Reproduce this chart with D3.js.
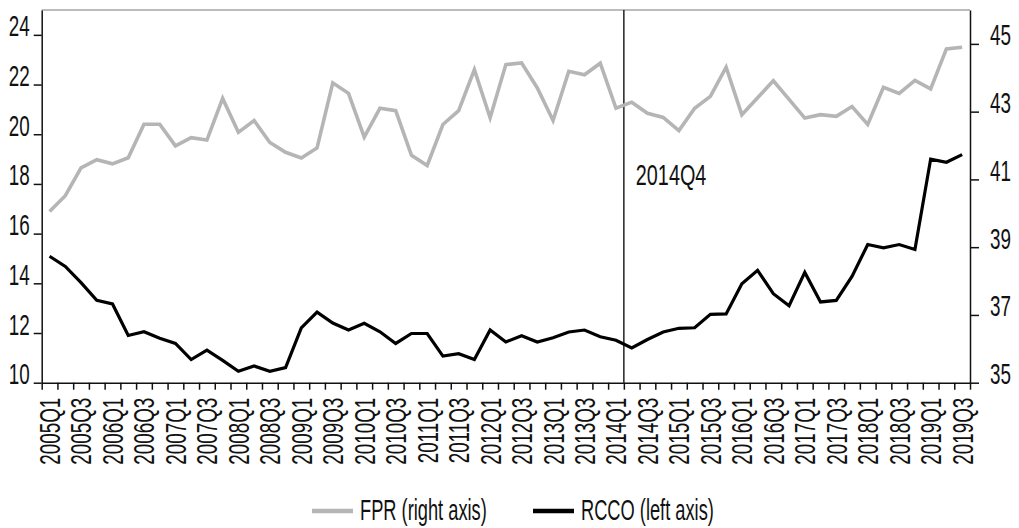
<!DOCTYPE html>
<html>
<head>
<meta charset="utf-8">
<script src="https://cdn.jsdelivr.net/npm/d3@7"></script>
<style>
    body { margin: 0; background: #fff; }
    text { font-family: "Liberation Sans", Arial, sans-serif; fill: #111; }
</style>
</head>
<body>
<svg id="chart"></svg>
<script>
// quarters on the x axis
const quarters = [
    '2005Q1','2005Q2','2005Q3','2005Q4','2006Q1','2006Q2','2006Q3','2006Q4',
    '2007Q1','2007Q2','2007Q3','2007Q4','2008Q1','2008Q2','2008Q3','2008Q4',
    '2009Q1','2009Q2','2009Q3','2009Q4','2010Q1','2010Q2','2010Q3','2010Q4',
    '2011Q1','2011Q2','2011Q3','2011Q4','2012Q1','2012Q2','2012Q3','2012Q4',
    '2013Q1','2013Q2','2013Q3','2013Q4','2014Q1','2014Q2','2014Q3','2014Q4',
    '2015Q1','2015Q2','2015Q3','2015Q4','2016Q1','2016Q2','2016Q3','2016Q4',
    '2017Q1','2017Q2','2017Q3','2017Q4','2018Q1','2018Q2','2018Q3','2018Q4',
    '2019Q1','2019Q2','2019Q3'
];

// FPR, right axis
const fpr = [
    40.05, 40.52, 41.34, 41.58, 41.46, 41.64, 42.63, 42.63,
    41.99, 42.23, 42.16, 43.39, 42.39, 42.74, 42.09, 41.80,
    41.63, 41.93, 43.85, 43.54, 42.25, 43.10, 43.03, 41.71,
    41.41, 42.62, 43.03, 44.24, 42.82, 44.39, 44.44, 43.70,
    42.74, 44.19, 44.09, 44.43, 43.10, 43.28, 42.95, 42.83,
    42.44, 43.10, 43.45, 44.31, 42.91, 43.41, 43.91, 43.36,
    42.81, 42.91, 42.86, 43.15, 42.62, 43.72, 43.54, 43.92,
    43.67, 44.85, 44.90
];

// RCCO, left axis
const rcco = [
    15.09, 14.68, 14.03, 13.32, 13.17, 11.90, 12.05, 11.79,
    11.58, 10.93, 11.31, 10.90, 10.46, 10.67, 10.46, 10.61,
    12.21, 12.84, 12.40, 12.12, 12.39, 12.05, 11.58, 11.98,
    11.98, 11.07, 11.17, 10.93, 12.12, 11.64, 11.89, 11.64,
    11.81, 12.04, 12.12, 11.85, 11.71, 11.40, 11.74, 12.04,
    12.19, 12.21, 12.75, 12.77, 13.98, 14.52, 13.58, 13.10,
    14.44, 13.25, 13.31, 14.28, 15.56, 15.43, 15.56, 15.36,
    19.00, 18.87, 19.18
];

const leftTicks = [10, 12, 14, 16, 18, 20, 22, 24];
const rightTicks = [35, 37, 39, 41, 43, 45];
const xLabels = quarters.filter((d, i) => i % 2 === 0);
const markerQuarter = '2014Q2';
const markerText = '2014Q4';

const width = 1019, height = 528;
const plot = {left: 41.7, right: 970, top: 10, bottom: 382.7};
const fontSize = 29;
const squeeze = 0.65; // the original uses a condensed face

const svg = d3.select('#chart')
    .attr('width', width)
    .attr('height', height);

const x = d3.scaleBand()
    .domain(quarters)
    .range([plot.left, plot.right]);

// ticks sit on the band edges
const xEdge = d3.scaleLinear()
    .domain([0, quarters.length])
    .range([plot.left, plot.right]);

const yLeft = d3.scaleLinear()
    .domain([10, 25])
    .range([plot.bottom, plot.top]);

const yRight = d3.scaleLinear()
    .domain([35, 46])
    .range([plot.bottom, plot.top]);

// top frame
svg.append('line')
    .attr('x1', plot.left).attr('x2', plot.right)
    .attr('y1', plot.top).attr('y2', plot.top)
    .attr('stroke', '#a6a6a6')
    .attr('stroke-width', 1.5);

// left axis
const leftAxis = svg.append('g')
    .attr('transform', `translate(${plot.left},0)`)
    .call(d3.axisLeft(yLeft).tickValues(leftTicks).tickSize(8).tickSizeOuter(0));

// right axis
const rightAxis = svg.append('g')
    .attr('transform', `translate(${plot.right},0)`)
    .call(d3.axisRight(yRight).tickValues(rightTicks).tickSize(9).tickSizeOuter(0));

[leftAxis, rightAxis].forEach(g => {
    g.select('.domain').attr('stroke', '#111').attr('stroke-width', 1.5);
    g.selectAll('.tick line').attr('stroke', '#111').attr('stroke-width', 1.5);
});

leftAxis.selectAll('.tick text')
    .attr('x', 0).attr('dy', 0)
    .attr('font-size', fontSize)
    .attr('transform', `translate(-12,1) scale(${squeeze},1)`);

rightAxis.selectAll('.tick text')
    .attr('x', 0).attr('dy', 0)
    .attr('font-size', fontSize)
    .attr('transform', `translate(20,1) scale(${squeeze},1)`);

// bottom axis: tick marks on band edges
const bottomTicks = svg.append('g')
    .attr('transform', `translate(0,${plot.bottom})`)
    .call(d3.axisBottom(xEdge)
        .tickValues(d3.range(quarters.length + 1))
        .tickFormat('')
        .tickSize(7)
        .tickSizeOuter(0));
bottomTicks.select('.domain').attr('stroke', '#111').attr('stroke-width', 1.5);
bottomTicks.selectAll('.tick line').attr('stroke', '#111').attr('stroke-width', 1.5);

// bottom axis: rotated labels at band centres
const bottomLabels = svg.append('g')
    .attr('transform', `translate(0,${plot.bottom})`)
    .call(d3.axisBottom(x).tickValues(xLabels).tickSize(0));
bottomLabels.select('.domain').remove();
bottomLabels.selectAll('.tick text')
    .attr('x', 0).attr('y', 0)
    .attr('dy', '0.36em')
    .attr('text-anchor', 'end')
    .attr('font-size', fontSize)
    .attr('transform', `translate(0,15) rotate(-90) scale(${squeeze},1)`);

// marker line
const xm = x(markerQuarter);
svg.append('line')
    .attr('x1', xm).attr('x2', xm)
    .attr('y1', plot.top).attr('y2', plot.bottom)
    .attr('stroke', '#222')
    .attr('stroke-width', 1.5);

svg.append('text')
    .attr('font-size', 30)
    .attr('transform', `translate(${xm + 12},185) scale(0.66,1)`)
    .text(markerText);

// series
const cx = d => x(d) + x.bandwidth() / 2;

const fprLine = d3.line()
    .x((d, i) => cx(quarters[i]))
    .y(d => yRight(d));

const rccoLine = d3.line()
    .x((d, i) => cx(quarters[i]))
    .y(d => yLeft(d));

svg.append('path')
    .datum(fpr)
    .attr('fill', 'none')
    .attr('stroke', '#b5b5b5')
    .attr('stroke-width', 3.6)
    .attr('stroke-linejoin', 'miter')
    .attr('d', fprLine);

svg.append('path')
    .datum(rcco)
    .attr('fill', 'none')
    .attr('stroke', '#000')
    .attr('stroke-width', 3.2)
    .attr('stroke-linejoin', 'miter')
    .attr('d', rccoLine);

// legend
const legend = [
    {label: 'FPR (right axis)', color: '#b5b5b5', x: 312},
    {label: 'RCCO (left axis)', color: '#000', x: 533}
];

const item = svg.append('g')
    .selectAll('g')
    .data(legend)
    .join('g')
        .attr('transform', d => `translate(${d.x},511)`);

item.append('line')
    .attr('x1', 0).attr('x2', 41)
    .attr('stroke', d => d.color)
    .attr('stroke-width', 4.5);

item.append('text')
    .attr('font-size', fontSize)
    .attr('transform', `translate(48,9) scale(0.63,1)`)
    .text(d => d.label);
</script>
</body>
</html>
